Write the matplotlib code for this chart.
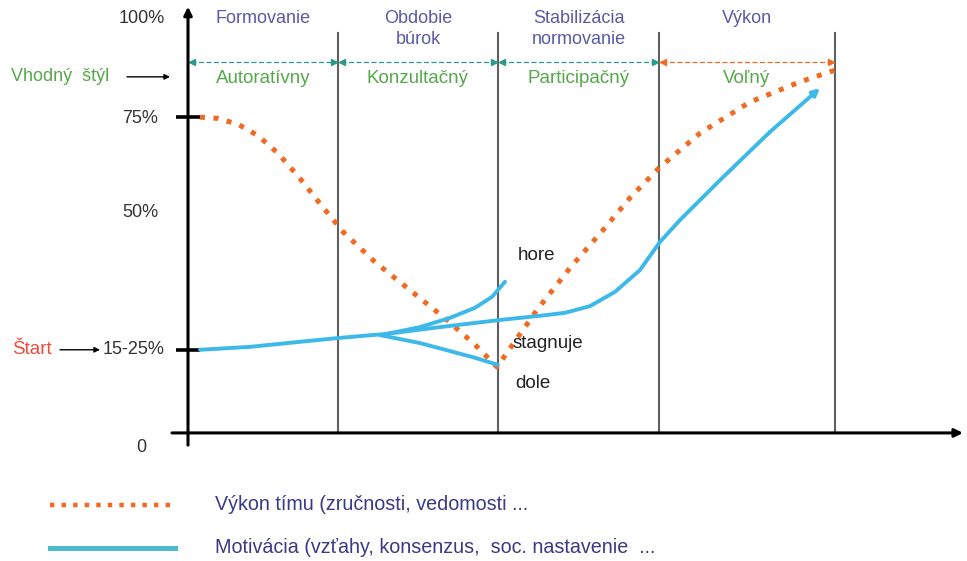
import matplotlib
matplotlib.use('Agg')
import matplotlib.pyplot as plt

plt.rcParams['font.family'] = ['Liberation Sans', 'DejaVu Sans']

# -----------------------------------------------------------------------
# Data (x = time along the team life cycle, y = percent)
# -----------------------------------------------------------------------
phase_edges = [0, 150, 310, 471, 647]
phase_names = ['Formovanie', 'Obdobie\nbúrok', 'Stabilizácia\nnormovanie', 'Výkon']
style_names = ['Autoratívny', 'Konzultačný', 'Participačný', 'Voľný']

perf_x = [12, 30, 50, 70, 90, 112, 132, 155, 187, 222, 259, 287, 309,
          349, 382, 415, 442, 471, 512, 562, 612, 647]
perf_y = [75.2, 74.9, 73.5, 70.8, 66.6, 60.6, 54.6, 47.9, 40.7, 34.0, 26.9, 21.0, 15.7,
          29.3, 39.3, 48.3, 56.0, 63.1, 71.4, 78.8, 83.6, 86.4]

motiv_x = [12, 62, 112, 150, 199, 252, 312, 352, 377, 402, 427, 452,
           472, 492, 532, 582, 632]
motiv_y = [19.8, 20.5, 21.7, 22.6, 23.6, 25.2, 26.9, 27.9, 28.6, 30.2, 33.6, 38.8,
           45.5, 50.7, 60.2, 71.7, 82.1]

up_x = [199, 232, 262, 287, 304, 317]
up_y = [23.6, 25.2, 27.4, 29.8, 32.4, 36.0]

down_x = [192, 232, 262, 287, 310]
down_y = [23.3, 21.4, 19.5, 17.9, 16.2]

tick_labels = ['100%', '75%', '50%', '15-25%', '0']
tick_label_y = [98.8, 74.8, 52.6, 19.8, -3.4]
tick_marks = [75.2, 19.8]

branch_labels = ['hore', 'stagnuje', 'dole']
branch_label_xy = [(330, 42.2), (325, 21.4), (327, 11.7)]

legend_labels = ['Výkon tímu (zručnosti, vedomosti ...',
                 'Motivácia (vzťahy, konsenzus,  soc. nastavenie  ...']

ORANGE = '#f26a21'
BLUE = '#3cb9e8'
GREEN = '#55a84a'
PURPLE = '#5a5aa6'
DARK = '#3a3a86'
TEAL = '#2b9a8c'
FS = 13.5

fig = plt.figure(figsize=(9.67, 5.61), dpi=100)
ax = fig.add_axes([0, 0, 1, 1])
ax.set_xlim(-188, 779)
ax.set_ylim(-30.5, 103.1)
ax.axis('off')

# axes with arrows
ax.annotate('', xy=(0, 101.5), xytext=(0, -2.9),
            arrowprops=dict(arrowstyle='-|>', color='black', lw=2.2,
                            mutation_scale=12, shrinkA=0, shrinkB=0))
ax.annotate('', xy=(775, 0), xytext=(-16, 0),
            arrowprops=dict(arrowstyle='-|>', color='black', lw=2.2,
                            mutation_scale=12, shrinkA=0, shrinkB=0))
for t in tick_marks:
    ax.plot([-12, 12], [t, t], color='black', lw=2.6, solid_capstyle='butt')

# phase boundaries
for e in phase_edges[1:]:
    ax.plot([e, e], [0, 95.2], color='#606060', lw=1.5)

# phase titles, double arrows and leadership styles
for i, (name, style) in enumerate(zip(phase_names, style_names)):
    x0, x1 = phase_edges[i], phase_edges[i + 1]
    xc = (x0 + x1) / 2
    for k, line in enumerate(name.split('\n')):
        ax.text(xc, 98.8 - 5.2 * k, line, ha='center', va='center',
                color=PURPLE, fontsize=FS - 0.5)
    ax.text(xc, 84.5, style, ha='center', va='center', color=GREEN, fontsize=FS)
    c = ORANGE if i == 3 else TEAL
    ax.plot([x0 + 3, x1 - 3], [88.3, 88.3], color=c, lw=0.9, ls=(0, (4, 2)))
    ax.plot([x0 + 4], [88.3], marker='<', color=c, ms=5)
    ax.plot([x1 - 4], [88.3], marker='>', color=c, ms=5)

# curves
ax.plot(perf_x, perf_y, color=ORANGE, lw=3.6, ls=(0, (1, 1.7)),
        dash_capstyle='butt')
ax.plot(motiv_x[:-1], motiv_y[:-1], color=BLUE, lw=2.8, solid_capstyle='round')
ax.annotate('', xy=(motiv_x[-1], motiv_y[-1]), xytext=(motiv_x[-2], motiv_y[-2]),
            arrowprops=dict(arrowstyle='-|>', color=BLUE, lw=2.8,
                            mutation_scale=10, shrinkA=0, shrinkB=0))
ax.plot(up_x, up_y, color=BLUE, lw=2.8, solid_capstyle='round')
ax.plot(down_x, down_y, color=BLUE, lw=2.8, solid_capstyle='round')

for lab, (x, y) in zip(branch_labels, branch_label_xy):
    ax.text(x, y, lab, ha='left', va='center', color='#222222', fontsize=FS)

# y labels
for lab, y in zip(tick_labels, tick_label_y):
    if lab == '0':
        ax.text(-47, y, lab, ha='center', va='center', color='#333333', fontsize=13)
    else:
        ax.text(-23 if lab in ('100%', '15-25%') else -30, y, lab,
                ha='right', va='center', color='#333333', fontsize=13)

# left side annotations
ax.text(-176, 19.8, 'Štart', ha='left', va='center', color='#ee4b3a', fontsize=FS)
ax.annotate('', xy=(-88, 19.8), xytext=(-128, 19.8),
            arrowprops=dict(arrowstyle='-|>', color='black', lw=1.0,
                            mutation_scale=8, shrinkA=0, shrinkB=0))
ax.text(-177, 84.8, 'Vhodný  štýl', ha='left', va='center', color=GREEN, fontsize=13)
ax.annotate('', xy=(-18, 84.8), xytext=(-61, 84.8),
            arrowprops=dict(arrowstyle='-|>', color='black', lw=1.0,
                            mutation_scale=8, shrinkA=0, shrinkB=0))

# legend
ax.plot([-138, -13], [-17.1, -17.1], color=ORANGE, lw=3.2, ls=(0, (1, 1.6)),
        dash_capstyle='butt')
ax.plot([-138, -13], [-27.4, -27.4], color='#4bbbd2', lw=3.6)
ax.text(27, -17.1, legend_labels[0], ha='left', va='center', color=DARK, fontsize=14.2)
ax.text(27, -27.4, legend_labels[1], ha='left', va='center', color=DARK, fontsize=14.2)

fig.savefig('out.png', dpi=100)
